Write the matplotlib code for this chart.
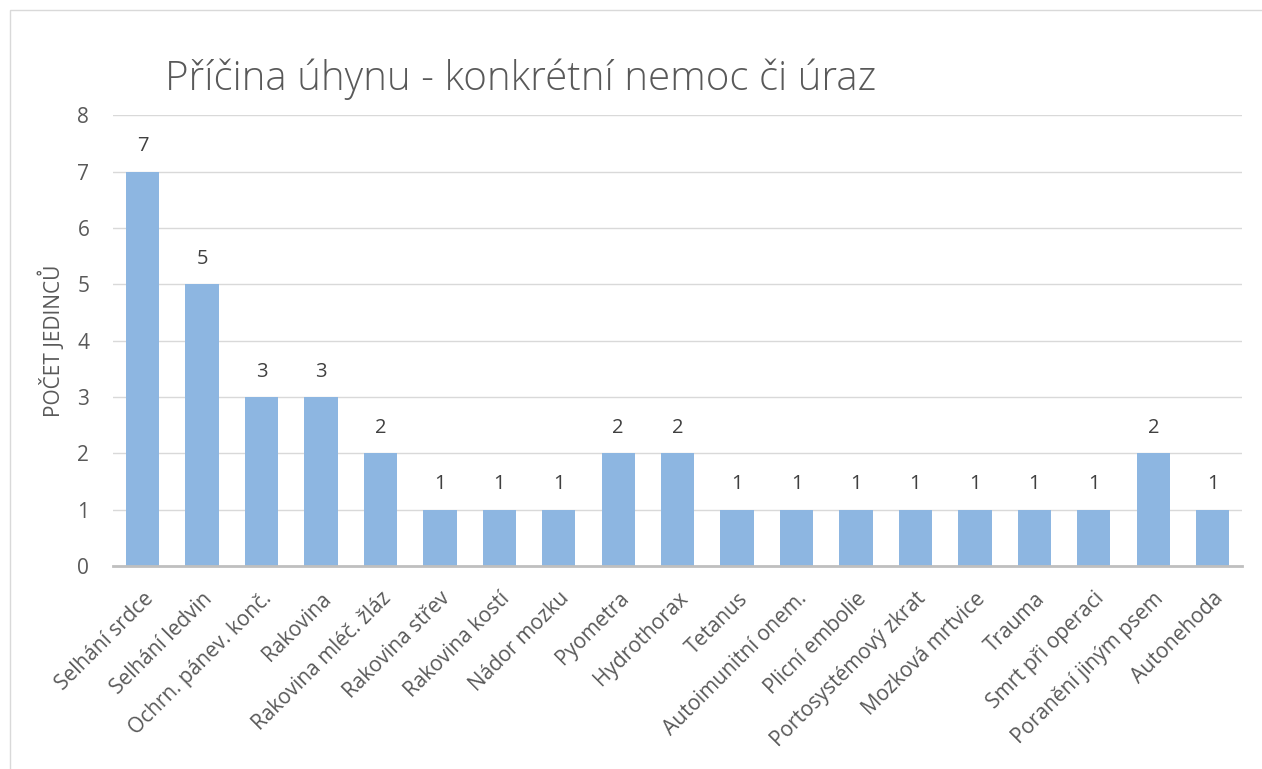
import matplotlib.pyplot as plt
from matplotlib.patches import Rectangle

# Příčiny úhynu a počty jedinců
pricina = ['Selhání srdce', 'Selhání ledvin', 'Ochrn. pánev. konč.', 'Rakovina',
           'Rakovina mléč. žláz', 'Rakovina střev', 'Rakovina kostí', 'Nádor mozku',
           'Pyometra', 'Hydrothorax', 'Tetanus', 'Autoimunitní onem.', 'Plicní embolie',
           'Portosystémový zkrat', 'Mozková mrtvice', 'Trauma', 'Smrt při operaci',
           'Poranění jiným psem', 'Autonehoda']
pocet = [7, 5, 3, 3, 2, 1, 1, 1, 2, 2, 1, 1, 1, 1, 1, 1, 1, 2, 1]
yticks = list(range(0, 9))

plt.rcParams['font.family'] = ['Open Sans', 'DejaVu Sans']
text_color = '#595959'

fig = plt.figure(figsize=(12.62, 7.69), dpi=100)
ax = fig.add_axes([0.0895, 0.264, 0.895, 0.586])

x = range(len(pricina))
bars = ax.bar(x, pocet, width=0.56, color='#8DB6E1', zorder=3)
ax.bar_label(bars, padding=11, fontsize=14.5, color='#404040')

ax.set_xlim(-0.5, len(pricina) - 0.5)
ax.set_ylim(0, 8)
ax.set_yticks(yticks)
ax.set_xticks(list(x))
ax.set_xticklabels(pricina, rotation=45, ha='right', rotation_mode='anchor',
                   fontsize=15, color=text_color)
ax.tick_params(axis='y', labelsize=15, labelcolor=text_color, length=0, pad=17)
ax.tick_params(axis='x', length=0, pad=16)
ax.grid(axis='y', color='#D9D9D9', linewidth=1, zorder=0)

for s in ['top', 'right', 'left']:
    ax.spines[s].set_visible(False)
ax.spines['bottom'].set_color('#BFBFBF')
ax.spines['bottom'].set_linewidth(2)
ax.spines['bottom'].set_zorder(4)

ax.set_ylabel('POČET JEDINCŮ', fontsize=15, color=text_color, labelpad=9)
fig.text(0.131, 0.897, 'Příčina úhynu - konkrétní nemoc či úraz', fontsize=29,
         fontweight='light', color=text_color, va='center', ha='left')

# rámeček grafu
fig.add_artist(Rectangle((0.008, -0.01), 1.0, 0.997, transform=fig.transFigure,
                         fill=False, edgecolor='#D9D9D9', linewidth=1))

fig.savefig('out.png', dpi=100)
